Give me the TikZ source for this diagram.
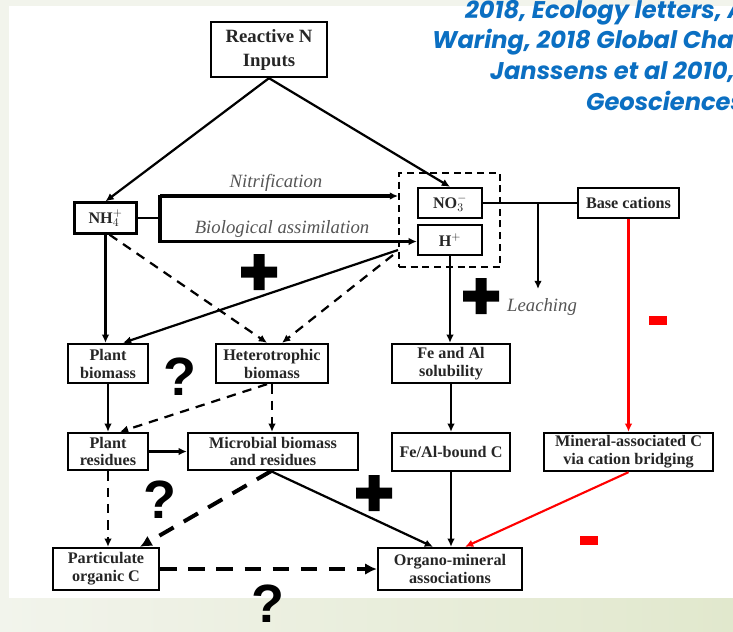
\documentclass[tikz,border=0pt]{standalone}
\usepackage{fontspec}
\setmainfont{Liberation Serif}
\newfontfamily\citefont{Poppins}
\newfontfamily\qfont{Liberation Sans}
\usetikzlibrary{arrows.meta,positioning}

\definecolor{citeblue}{HTML}{0B6FC2}
\definecolor{slidebg}{HTML}{F2F4EC}
\definecolor{slidegreen}{HTML}{E1E8CD}
\definecolor{boxtext}{HTML}{262626}
\definecolor{labelgray}{HTML}{555555}
\definecolor{minusred}{HTML}{FF0000}

\tikzset{
  box/.style={draw, line width=2pt, fill=white, text=boxtext, align=center,
    inner sep=0pt, font=\bfseries\fontsize{13.8}{15.3}\selectfont},
  flow/.style={line width=1.9pt, -{Latex[length=7pt,width=6.5pt]}},
  maybe/.style={flow, dash pattern=on 8pt off 6pt},
  bigmaybe/.style={line width=3.4pt, dash pattern=on 14pt off 10pt,
    -{Latex[length=10pt,width=10pt]}},
  loss/.style={line width=1.8pt, draw=minusred, -{Latex[length=7pt,width=6.5pt]}},
  proc/.style={font=\itshape\fontsize{16}{18}\selectfont, text=labelgray},
  unsure/.style={font=\qfont\bfseries\fontsize{46}{46}\selectfont},
  cite/.style={anchor=west, text=citeblue,
    font=\citefont\bfseries\itshape\fontsize{20.6}{22}\selectfont}
}
% big plus and minus signs
\newcommand{\plusmark}[1]{\fill (#1) ++(-18,-5.5) rectangle ++(36,11)
  (#1) ++(-5.5,-18) rectangle ++(11,36);}
\newcommand{\minusmark}[1]{\fill[minusred] (#1) ++(-9,-4.5) rectangle ++(18,9);}

\begin{document}
\begin{tikzpicture}[x=0.03cm,y=-0.03cm]
    \useasboundingbox (0,0) rectangle (733,631);
    \clip (0,0) rectangle (733,631);
    % slide background
    \fill[slidebg] (0,0) rectangle (733,631);
    \fill[white] (9,6) rectangle (733,598);
    \shade[left color=slidebg, right color=slidegreen] (0,598) rectangle (733,631);

    % citation
    \node[cite] (cite1) at (461,13) {2018, Ecology letters, A};
    \node[cite] (cite2) at (428,42) {Waring, 2018 Global Cha};
    \node[cite] (cite3) at (486,72) {Janssens et al 2010,};
    \node[cite] (cite4) at (582,101) {Geosciences};

    % boxes
    \node[draw, line width=1.7pt, dash pattern=on 6pt off 4pt,
      minimum width=3.03cm, minimum height=2.82cm] (acid) at (449.5,220) {};
    \node[box, font=\bfseries\fontsize{16}{20.5}\selectfont,
      minimum width=3.48cm, minimum height=1.65cm] (inputs) at (269,49.5) {Reactive N\\Inputs};
    \node[box, minimum width=1.86cm, minimum height=0.93cm] (nh) at (105.5,218) {NH$_4^+$};
    \node[box, minimum width=1.92cm, minimum height=0.9cm] (no3) at (450,203) {NO$_3^-$};
    \node[box, minimum width=1.92cm, minimum height=0.9cm] (hplus) at (450,240) {H$^+$};
    \node[box, minimum width=3.03cm, minimum height=0.9cm] (base) at (628.5,203) {Base cations};
    \node[box, minimum width=2.4cm, minimum height=1.17cm] (plantbio) at (108,363.5) {Plant\\biomass};
    \node[box, minimum width=3.36cm, minimum height=1.17cm] (hetero) at (272,363.5) {Heterotrophic\\biomass};
    \node[box, minimum width=3.54cm, minimum height=1.17cm] (fesol) at (451,363.5) {Fe and Al\\solubility};
    \node[box, minimum width=2.4cm, minimum height=1.11cm] (plantres) at (108,451.5) {Plant\\residues};
    \node[box, minimum width=5.1cm, minimum height=1.11cm] (microbe) at (273,451.5) {Microbial biomass\\and residues};
    \node[box, minimum width=3.54cm, minimum height=1.14cm] (febound) at (451,452) {Fe/Al-bound C};
    \node[box, minimum width=5.07cm, minimum height=1.14cm] (mineral) at (628.5,452) {Mineral-associated C\\via cation bridging};
    \node[box, minimum width=3.18cm, minimum height=1.26cm] (poc) at (106,569) {Particulate\\organic C};
    \node[box, minimum width=4.32cm, minimum height=1.26cm] (organo) at (450,569) {Organo-mineral\\associations};

    % process labels
    \node[proc] (nitrlab) at (276,183) {Nitrification};
    \node[proc] (assimlab) at (282,229) {Biological assimilation};
    \node[proc, anchor=west] (leachlab) at (503,307) {Leaching};

    % N inputs
    \draw[flow] (inputs.south) -- (nh.north);
    \draw[flow] (inputs.south) -- (no3.north);
    % nitrification / assimilation bracket
    \coordinate (nitr) at (160,196);
    \coordinate (assim) at (160,241.5);
    \draw[line width=1.9pt] (nh.east) -- (nh.east -| nitr);
    \draw[line width=3.2pt] ([yshift=0.04cm]nitr) -- ([yshift=-0.04cm]assim);
    \draw[flow, line width=2.6pt] (nitr) -- (nitr -| acid.west);
    \draw[flow, line width=2.6pt] (assim) -- (assim -| hplus.west);
    % nitrate, leaching, base cations
    \coordinate (leachfork) at (538,203);
    \coordinate (leachend) at (538,289);
    \draw[line width=1.9pt] (no3.east) -- (base.west);
    \draw[flow] (leachfork) -- (leachend);
    \draw[loss] (base.south) -- (mineral.north);
    % acidity
    \coordinate (hgate) at (398,250);
    \draw[flow] (hplus.south) -- (hplus.south |- fesol.north);
    \draw[flow] (fesol.south) -- (febound.north);
    \draw[flow] (febound.south) -- (febound.south |- organo.north);
    \draw[loss] (mineral.south) -- ([xshift=0.45cm]organo.north);
    \draw[flow] (hgate) -- ([xshift=0.45cm]plantbio.north);
    \draw[maybe] ([xshift=-0.15cm,yshift=-0.15cm]hgate) -- ([xshift=0.3cm]hetero.north);
    % ammonium uptake
    \draw[flow] (nh.south) -- (nh.south |- plantbio.north);
    \draw[maybe] ([xshift=0.12cm]nh.south) -- ([xshift=-0.15cm]hetero.north);
    % carbon pathways
    \draw[flow] (plantbio.south) -- (plantres.north);
    \draw[maybe] ([xshift=-0.15cm]hetero.south) -- ([xshift=0.36cm]plantres.north);
    \draw[maybe] (hetero.south) -- (hetero.south |- microbe.north);
    \draw[flow] (plantres.east) -- (microbe.west);
    \draw[maybe] (plantres.south) -- (plantres.south |- poc.north);
    \draw[bigmaybe] ([xshift=-0.06cm]microbe.south) -- ([xshift=1.02cm]poc.north);
    \draw[flow] ([xshift=-0.06cm]microbe.south) -- ([xshift=-0.51cm]organo.north);
    \draw[bigmaybe] (poc.east) -- (organo.west);

    % effect signs
    \plusmark{259,272}
    \plusmark{481,296}
    \plusmark{374,493}
    \minusmark{658,320}
    \minusmark{589,540}
    \node[unsure] (q1) at (180,377) {?};
    \node[unsure] (q2) at (160,500) {?};
    \node[unsure] (q3) at (268,604) {?};
\end{tikzpicture}
\end{document}
